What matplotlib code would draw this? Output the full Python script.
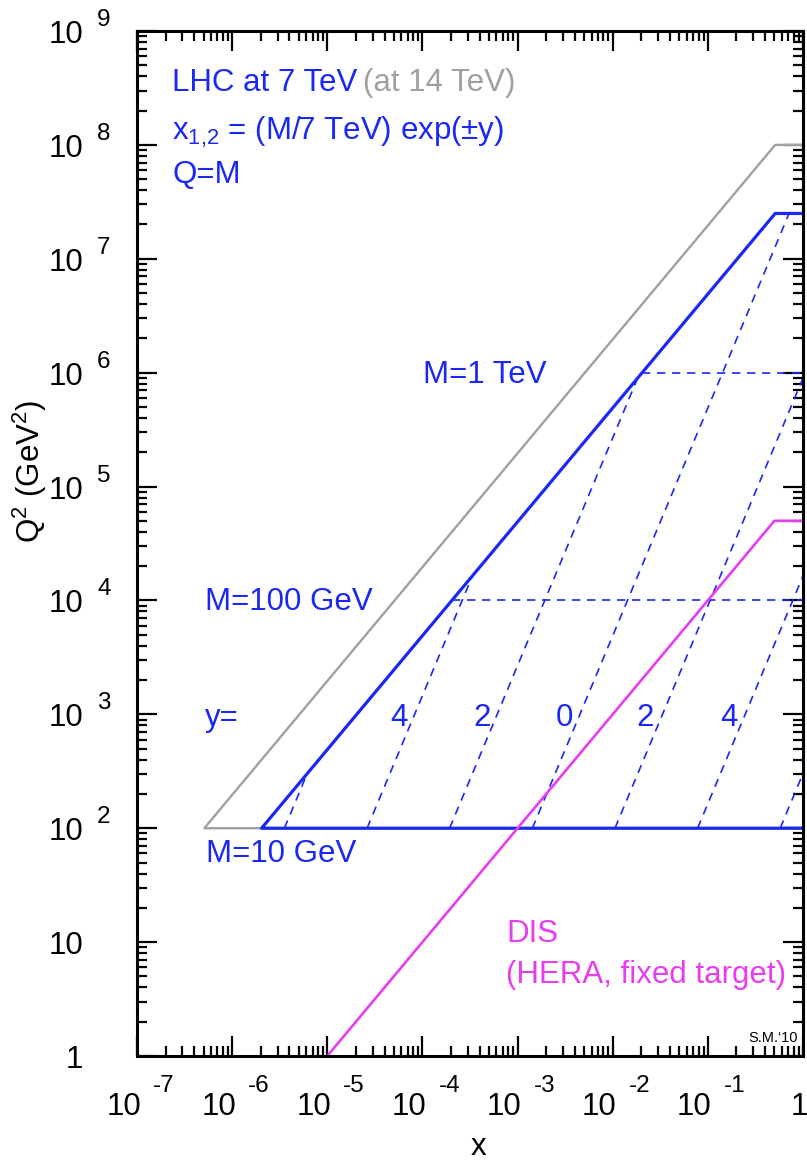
import numpy as np
import matplotlib.pyplot as plt
from matplotlib.transforms import blended_transform_factory, offset_copy

plt.rcParams['font.family'] = ['Liberation Sans', 'DejaVu Sans']
plt.rcParams['mathtext.fontset'] = 'custom'
plt.rcParams['mathtext.rm'] = 'Liberation Sans'
plt.rcParams['mathtext.it'] = 'Liberation Sans'

BLUE = '#1a28f5'
GRAY = '#a0a0a0'
MAGENTA = '#e83cf0'

# kinematic boundaries (x, Q^2)
lhc14_x = [1.0, 5.1e-7, 0.51, 1.0]
lhc14_q2 = [1e2, 1e2, 1e8, 1e8]
lhc7_x = [1.0, 2.04e-6, 0.51, 1.0]
lhc7_q2 = [1e2, 1e2, 2.5e7, 2.5e7]
dis_x = [1e-5, 0.5, 1.0]
dis_q2 = [1.0, 5e4, 5e4]

# constant-mass dashed lines
mass_q2 = [1e4, 1e6]
mass_x_lo = [2.04e-4, 2.04e-2]

# constant-rapidity dashed lines, y = -6 ... 6
rap_x_lo = [3.54e-6, 2.62e-5, 1.93e-4, 1.43e-3, 1.056e-2, 0.078, 0.576]
rap_x_hi = [6.14e-6, 3.35e-4, 1.83e-2, 0.714, 1.0, 1.0, 1.0]
rap_q2_hi = [301, 1.64e4, 8.97e5, 2.5e7, 8.97e5, 1.64e4, 302]
rap_q2_lo = 1e2

rap_labels = ['4', '2', '0', '2', '4']
rap_label_x = [5.7e-5, 4.2e-4, 3.1e-3, 2.2e-2, 0.166]
rap_label_q2 = 930

FS = 22.5

fig = plt.figure(figsize=(8.07, 11.6), dpi=100)
ax = fig.add_axes([137 / 807, 1 - 1056 / 1160, 666 / 807, 1025 / 1160])
ax.set_xscale('log')
ax.set_yscale('log')
ax.set_xlim(1e-7, 1)
ax.set_ylim(1, 1e9)

dash = (5.0, 4.0)
for xl, xh, qh in zip(rap_x_lo, rap_x_hi, rap_q2_hi):
    ax.plot([xl, xh], [rap_q2_lo, qh], color=BLUE, lw=1.2, dashes=dash)
for q, xl in zip(mass_q2, mass_x_lo):
    ax.plot([xl, 1.0], [q, q], color=BLUE, lw=1.2, dashes=dash)

ax.plot(lhc14_x, lhc14_q2, color=GRAY, lw=1.7)
ax.plot(lhc7_x, lhc7_q2, color=BLUE, lw=2.3)
ax.plot(dis_x, dis_q2, color=MAGENTA, lw=1.9)

for lab, xv in zip(rap_labels, rap_label_x):
    ax.text(xv, rap_label_q2, lab, color=BLUE, fontsize=FS, ha='center', va='center')

# text annotations (axes fraction from pixel positions)
def fx(px):
    return (px - 137) / 666

def fy(py):
    return (1056 - py) / 1025

t1 = ax.text(fx(172), fy(91), 'LHC at 7 TeV', color=BLUE, fontsize=FS,
             transform=ax.transAxes, va='baseline')
ax.annotate('(at 14 TeV)', xy=(1, 0), xycoords=t1, xytext=(4, 0),
            textcoords='offset points', color=GRAY, fontsize=FS, va='bottom')
ax.text(fx(172), fy(140), r'x$_{1{,}2}$ = (M/7 TeV) exp(±y)', color=BLUE, fontsize=FS,
        transform=ax.transAxes, va='baseline')
ax.text(fx(172), fy(183), 'Q=M', color=BLUE, fontsize=FS,
        transform=ax.transAxes, va='baseline')
ax.text(fx(423), fy(383), 'M=1 TeV', color=BLUE, fontsize=FS,
        transform=ax.transAxes, va='baseline')
ax.text(fx(205), fy(610), 'M=100 GeV', color=BLUE, fontsize=FS,
        transform=ax.transAxes, va='baseline')
ax.text(fx(205), fy(718), 'y=', color=BLUE, fontsize=FS,
        transform=ax.transAxes, va='center')
ax.text(fx(206), fy(862), 'M=10 GeV', color=BLUE, fontsize=FS,
        transform=ax.transAxes, va='baseline')
ax.text(fx(506), fy(942), 'DIS', color=MAGENTA, fontsize=FS,
        transform=ax.transAxes, va='baseline')
ax.text(fx(506), fy(983), '(HERA, fixed target)', color=MAGENTA, fontsize=FS,
        transform=ax.transAxes, va='baseline')
ax.text(fx(798), fy(1042), 'S.M.\u201810', color='black', fontsize=10.5,
        transform=ax.transAxes, va='baseline', ha='right')

# ticks
for s in ax.spines.values():
    s.set_linewidth(2.2)
ax.tick_params(which='major', direction='in', length=14.4, width=1.6,
               top=True, right=True, labelbottom=False, labelleft=False)
ax.tick_params(which='minor', direction='in', length=7.2, width=1.6,
               top=True, right=True)
ax.xaxis.set_major_locator(plt.LogLocator(base=10, numticks=20))
ax.yaxis.set_major_locator(plt.LogLocator(base=10, numticks=20))
ax.xaxis.set_minor_locator(plt.LogLocator(base=10, subs=np.arange(2, 10), numticks=20))
ax.yaxis.set_minor_locator(plt.LogLocator(base=10, subs=np.arange(2, 10), numticks=20))

# tick labels drawn as "10" with raised exponent
TFS = 22.5
EFS = 17.5
xtr = blended_transform_factory(ax.transData, ax.transAxes)
for k in range(-7, 0):
    ax.text(10.0 ** k, 0, '10', fontsize=TFS, ha='right', va='baseline',
            transform=offset_copy(xtr, fig=fig, x=4, y=-59, units='dots'))
    ax.text(10.0 ** k, 0, str(k), fontsize=EFS, ha='left', va='baseline',
            transform=offset_copy(xtr, fig=fig, x=16, y=-36, units='dots'))
ax.text(1.0, 0, '1', fontsize=TFS, ha='right', va='baseline',
        transform=offset_copy(xtr, fig=fig, x=5, y=-59, units='dots'))

ytr = blended_transform_factory(ax.transAxes, ax.transData)
for k in range(2, 10):
    ax.text(0, 10.0 ** k, '10', fontsize=TFS, ha='right', va='baseline',
            transform=offset_copy(ytr, fig=fig, x=-54, y=-12, units='dots'))
    ax.text(0, 10.0 ** k, str(k), fontsize=EFS, ha='left', va='baseline',
            transform=offset_copy(ytr, fig=fig, x=-40, y=5, units='dots'))
ax.text(0, 10.0, '10', fontsize=TFS, ha='right', va='baseline',
        transform=offset_copy(ytr, fig=fig, x=-54, y=-12, units='dots'))
ax.text(0, 1.0, '1', fontsize=TFS, ha='right', va='baseline',
        transform=offset_copy(ytr, fig=fig, x=-54, y=-12, units='dots'))

fig.text(30 / 807, 1 - 471 / 1160, r'Q$^2$ (GeV$^2$)', fontsize=TFS,
         rotation=90, ha='center', va='center')
fig.text(478 / 807, 1 - 1155 / 1160, 'x', fontsize=TFS, ha='center', va='baseline')

fig.savefig('out.png', dpi=100)
